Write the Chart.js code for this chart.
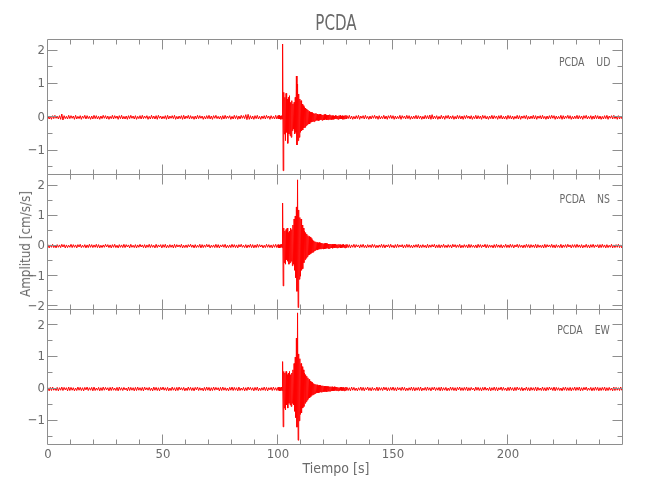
<!DOCTYPE html>
<html>
<head>
<meta charset="utf-8">
<script src="https://cdn.jsdelivr.net/npm/chart.js@4/dist/chart.umd.min.js"></script>
<style>
  html, body { margin:0; padding:0; background:#fff; }
  #wrap { position:relative; width:650px; height:500px; overflow:hidden; background:#fff; }
  canvas { position:absolute; left:0; top:0; }
  .txt { position:absolute; color:#6a6a6a; font-family:"Liberation Sans Narrow","DejaVu Sans Condensed","Liberation Sans",sans-serif; white-space:pre; line-height:1; }
  .lab { right:40px; font-size:13px; transform-origin:100% 50%; transform:scaleX(0.8); }
</style>
</head>
<body>
<div id="wrap">
  <canvas id="c0" width="650" height="500"></canvas>
  <canvas id="c1" width="650" height="500"></canvas>
  <canvas id="c2" width="650" height="500"></canvas>
  <div class="txt" id="title" style="left:336px; top:13px; font-size:21px; transform:translate(-50%,0) scaleX(0.8);">PCDA</div>
  <div class="txt" style="left:25px; top:244px; font-size:14px; transform:translate(-50%,-50%) rotate(-90deg) scaleX(0.95);">Amplitud [cm/s/s]</div>
  <div class="txt" style="left:336px; top:461px; font-size:14px; transform:translate(-50%,0);">Tiempo [s]</div>
  <div class="txt lab" style="top:55px;">PCDA    UD</div>
  <div class="txt lab" style="top:192px;">PCDA    NS</div>
  <div class="txt lab" style="top:323px;">PCDA    EW</div>
</div>
<script>
// ---------------- data (amplitudes in cm/s/s) ----------------
const components = ["UD", "NS", "EW"];
const station = "PCDA";
const timeRange = [0, 250];            // seconds
const yMinByComp = [-1.73, -2.12, -1.76];
const yMaxByComp = [2.32, 2.36, 2.48];

// sampling grids: pre-event 0..99.5 s every 0.5 s, event 100..129.75 s every 0.25 s, post-event 130..250 s every 0.5 s
const preStart = 0,   preStep = 0.5;
const evtStart = 100, evtStep = 0.25;
const postStart = 130, postStep = 0.5;

const udPre = [
.04,-.05,.03,-.06,.05,-.04,.06,-.03,.04,-.05,.05,-.06,.10,-.08,.05,-.04,.03,-.05,.06,-.04,
.05,-.03,.04,-.06,.06,-.05,.03,-.04,.05,-.06,.04,-.03,.06,-.05,.05,-.04,.03,-.06,.04,-.05,
.06,-.04,.05,-.05,.03,-.06,.04,-.04,.06,-.03,.05,-.05,.04,-.06,.03,-.04,.06,-.05,.05,-.03,
.04,-.06,.05,-.04,.06,-.05,.03,-.05,.04,-.06,.05,-.04,.06,-.03,.04,-.05,.05,-.06,.03,-.04,
.05,-.05,.06,-.04,.04,-.03,.05,-.06,.03,-.05,.06,-.04,.04,-.05,.05,-.06,.06,-.03,.04,-.05,
.03,-.04,.05,-.06,.06,-.05,.04,-.03,.05,-.04,.06,-.06,.03,-.05,.04,-.04,.05,-.06,.06,-.05,
.04,-.03,.06,-.05,.05,-.04,.03,-.06,.04,-.05,.06,-.04,.05,-.03,.04,-.06,.03,-.05,.05,-.04,
.06,-.05,.04,-.06,.05,-.03,.06,-.04,.03,-.05,.04,-.06,.05,-.05,.06,-.04,.04,-.03,.05,-.06,
.03,-.05,.06,-.04,.05,-.06,.04,-.05,.06,-.03,.05,-.04,.08,-.07,.09,-.06,.05,-.05,.04,-.06,
.05,-.04,.06,-.05,.03,-.06,.04,-.04,.05,-.05,.06,-.03,.04,-.06,.05,-.04,.03,-.05,.06,-.05];
const udEvent = [
.05,-.04,.06,-.05,.04,-.06,.05,-.05,
2.2,-1.6,.75,-.5,.6,-.7,.72,-.45,
.55,-.78,.6,-.5,.65,-.55,.45,-.6,
.5,-.4,.4,-.35,.45,-.5,.6,-.45,
1.24,-.83,1.0,-.7,.7,-.6,.55,-.45,
.5,-.4,.4,-.38,.35,-.32,.3,-.3,
.28,-.25,.25,-.22,.22,-.2,.18,-.2,
.16,-.15,.15,-.14,.14,-.12,.12,-.13,
.11,-.1,.12,-.09,.1,-.09,.08,-.1,
.09,-.08,.1,-.07,.08,-.09,.07,-.08,
.08,-.07,.09,-.06,.07,-.08,.06,-.07,
.07,-.06,.08,-.06,.06,-.07,.05,-.06,
.05,-.06,.04,-.05,.06,-.04,.05,-.05,
.04,-.06,.05,-.04,.06,-.05,.04,-.05,
.05,-.06,.04,-.05,.05,-.04,.06,-.05];
const udPost = [
.05,-.04,.06,-.05,.04,-.06,.03,-.05,.05,-.04,.06,-.06,.04,-.03,.05,-.05,.06,-.04,.03,-.06,
.04,-.05,.05,-.03,.06,-.04,.04,-.06,.05,-.05,.03,-.04,.06,-.05,.04,-.06,.05,-.03,.06,-.04,
.05,-.06,.04,-.05,.03,-.04,.06,-.06,.05,-.03,.04,-.05,.06,-.04,.05,-.06,.03,-.05,.04,-.04,
.06,-.05,.05,-.04,.04,-.06,.03,-.05,.06,-.04,.05,-.05,.07,-.06,.08,-.05,.04,-.04,.05,-.06,
.03,-.05,.06,-.04,.04,-.06,.05,-.03,.06,-.05,.04,-.04,.05,-.06,.03,-.05,.06,-.04,.05,-.05,
.04,-.06,.05,-.04,.06,-.03,.04,-.05,.05,-.06,.03,-.04,.06,-.05,.05,-.04,.04,-.06,.06,-.03,
.05,-.05,.03,-.06,.04,-.04,.06,-.05,.05,-.03,.04,-.06,.05,-.04,.06,-.05,.03,-.05,.04,-.06,
.06,-.04,.05,-.05,.04,-.06,.03,-.04,.06,-.05,.05,-.06,.04,-.03,.05,-.04,.06,-.06,.03,-.05,
.04,-.04,.06,-.05,.05,-.06,.04,-.03,.05,-.05,.06,-.04,.03,-.06,.04,-.05,.05,-.04,.06,-.03,
.05,-.06,.04,-.05,.03,-.04,.06,-.06,.05,-.05,.04,-.03,.06,-.04,.05,-.06,.03,-.05,.04,-.04,
.06,-.05,.05,-.04,.04,-.06,.05,-.03,.06,-.05,.03,-.04,.05,-.06,.04,-.05,.06,-.04,.05,-.05,
.04,-.06,.03,-.05,.05,-.04,.06,-.06,.04,-.03,.05,-.05,.06,-.04,.03,-.06,.05,-.05,.04,-.04,
.05];

const nsPre = [
.05,-.06,.04,-.04,.06,-.05,.03,-.06,.05,-.04,.04,-.05,.06,-.03,.05,-.06,.04,-.05,.03,-.04,
.06,-.05,.05,-.04,.04,-.06,.05,-.03,.06,-.05,.03,-.04,.05,-.06,.04,-.05,.06,-.04,.05,-.05,
.04,-.04,.06,-.05,.05,-.06,.03,-.05,.04,-.04,.06,-.03,.05,-.05,.04,-.06,.05,-.04,.06,-.05,
.03,-.06,.05,-.04,.04,-.05,.06,-.05,.05,-.03,.04,-.06,.06,-.04,.03,-.05,.05,-.06,.04,-.04,
.06,-.03,.04,-.05,.05,-.06,.04,-.04,.06,-.05,.05,-.04,.03,-.06,.06,-.05,.04,-.03,.05,-.06,
.05,-.04,.06,-.06,.03,-.05,.05,-.04,.04,-.06,.06,-.05,.05,-.03,.04,-.04,.06,-.06,.03,-.05,
.04,-.05,.05,-.03,.06,-.04,.04,-.06,.05,-.05,.03,-.04,.06,-.06,.05,-.05,.04,-.04,.06,-.03,
.05,-.06,.03,-.04,.04,-.05,.06,-.05,.05,-.06,.04,-.03,.05,-.04,.06,-.06,.03,-.05,.04,-.05,
.06,-.04,.05,-.05,.04,-.06,.05,-.03,.06,-.04,.03,-.05,.05,-.06,.04,-.04,.06,-.05,.05,-.06,
.04,-.05,.06,-.04,.05,-.03,.04,-.06,.03,-.05,.06,-.04,.05,-.05,.04,-.06,.05,-.04,.06,-.05];
const nsEvent = [
.05,-.05,.04,-.06,.05,-.04,.06,-.05,
1.43,-1.32,.6,-.55,.5,-.6,.55,-.45,
.6,-.5,.45,-.6,.5,-.55,.6,-.5,
.55,-.65,.7,-.6,.9,-.8,1.0,-1.05,
1.3,-1.5,2.2,-2.04,1.2,-1.1,.95,-1.0,
.9,-.8,.7,-.75,.6,-.55,.5,-.45,
.45,-.4,.4,-.35,.35,-.3,.32,-.28,
.3,-.25,.25,-.22,.2,-.2,.18,-.16,
.15,-.14,.14,-.12,.12,-.13,.11,-.1,
.12,-.1,.1,-.09,.1,-.08,.09,-.1,
.08,-.09,.1,-.08,.09,-.07,.08,-.08,
.07,-.08,.07,-.06,.07,-.06,.06,-.07,
.06,-.05,.07,-.06,.06,-.05,.05,-.06,
.05,-.05,.06,-.04,.05,-.06,.04,-.05,
.05,-.04,.06,-.05,.04,-.06,.05,-.05];
const nsPost = [
.06,-.05,.05,-.06,.04,-.04,.06,-.05,.05,-.03,.04,-.06,.05,-.04,.06,-.05,.03,-.06,.05,-.04,
.04,-.05,.06,-.04,.05,-.06,.03,-.05,.04,-.04,.06,-.05,.05,-.06,.04,-.03,.05,-.05,.06,-.04,
.03,-.06,.05,-.05,.06,-.04,.04,-.03,.05,-.06,.04,-.05,.06,-.04,.05,-.05,.03,-.06,.04,-.04,
.05,-.04,.06,-.06,.04,-.05,.05,-.04,.03,-.06,.06,-.05,.04,-.04,.05,-.03,.06,-.06,.04,-.05,
.05,-.06,.04,-.04,.06,-.05,.03,-.05,.05,-.04,.04,-.06,.06,-.03,.05,-.05,.04,-.04,.06,-.06,
.03,-.05,.05,-.04,.04,-.06,.06,-.05,.05,-.04,.03,-.05,.04,-.06,.06,-.04,.05,-.05,.04,-.03,
.06,-.06,.05,-.05,.04,-.04,.03,-.06,.05,-.05,.06,-.04,.04,-.05,.05,-.06,.03,-.04,.06,-.05,
.04,-.05,.06,-.04,.05,-.06,.04,-.03,.06,-.05,.05,-.04,.03,-.06,.04,-.05,.06,-.04,.05,-.06,
.05,-.04,.04,-.05,.06,-.06,.05,-.04,.03,-.05,.04,-.06,.06,-.05,.05,-.03,.04,-.04,.06,-.05,
.04,-.06,.05,-.04,.03,-.05,.06,-.06,.04,-.04,.05,-.05,.06,-.03,.04,-.06,.05,-.04,.05,-.05,
.06,-.04,.04,-.05,.05,-.06,.03,-.04,.06,-.05,.04,-.06,.05,-.04,.06,-.05,.04,-.03,.05,-.06,
.05,-.05,.06,-.04,.04,-.06,.05,-.05,.03,-.04,.06,-.06,.04,-.05,.05,-.04,.06,-.05,.04,-.06,
.05];

const ewPre = [
.04,-.06,.05,-.05,.06,-.04,.03,-.05,.05,-.06,.04,-.04,.06,-.05,.05,-.03,.04,-.06,.06,-.05,
.05,-.04,.04,-.06,.03,-.05,.06,-.04,.05,-.05,.04,-.06,.05,-.03,.06,-.05,.04,-.04,.05,-.06,
.06,-.05,.03,-.04,.05,-.06,.04,-.05,.06,-.04,.05,-.03,.04,-.06,.05,-.05,.06,-.04,.03,-.05,
.05,-.06,.06,-.04,.04,-.05,.05,-.03,.03,-.06,.06,-.05,.05,-.04,.04,-.06,.05,-.05,.06,-.04,
.04,-.05,.05,-.06,.06,-.03,.04,-.04,.05,-.05,.03,-.06,.06,-.04,.05,-.05,.04,-.06,.05,-.03,
.06,-.04,.04,-.05,.05,-.06,.03,-.05,.06,-.04,.04,-.06,.05,-.05,.06,-.03,.04,-.04,.05,-.06,
.03,-.05,.06,-.04,.05,-.05,.04,-.06,.05,-.03,.06,-.05,.04,-.04,.03,-.06,.05,-.05,.06,-.04,
.05,-.06,.04,-.05,.06,-.04,.05,-.03,.04,-.06,.05,-.05,.06,-.04,.04,-.05,.03,-.06,.05,-.04,
.06,-.05,.05,-.04,.04,-.06,.06,-.05,.03,-.04,.05,-.06,.04,-.05,.06,-.03,.05,-.04,.04,-.06,
.05,-.04,.06,-.06,.03,-.05,.04,-.04,.06,-.05,.05,-.06,.04,-.03,.05,-.05,.06,-.04,.04,-.05];
const ewEvent = [
.05,-.04,.05,-.06,.04,-.05,.06,-.05,
.86,-1.19,.55,-.6,.5,-.66,.55,-.5,
.45,-.6,.5,-.45,.55,-.5,.45,-.55,
.5,-.45,.6,-.5,.8,-.7,1.0,-.9,
1.6,-1.2,2.39,-1.61,1.1,-1.0,.95,-.8,
.8,-.75,.7,-.6,.6,-.55,.5,-.45,
.45,-.4,.4,-.35,.35,-.3,.3,-.28,
.25,-.24,.22,-.2,.2,-.18,.17,-.16,
.15,-.14,.14,-.12,.13,-.12,.11,-.12,
.12,-.1,.11,-.1,.1,-.09,.1,-.09,
.09,-.08,.09,-.08,.08,-.09,.08,-.07,
.08,-.07,.07,-.07,.07,-.06,.07,-.06,
.06,-.06,.07,-.05,.06,-.05,.06,-.05,
.05,-.06,.04,-.05,.05,-.04,.06,-.05,
.04,-.05,.05,-.06,.04,-.05,.06,-.04];
const ewPost = [
.05,-.05,.04,-.06,.06,-.04,.05,-.05,.03,-.06,.04,-.04,.06,-.05,.05,-.06,.04,-.03,.06,-.05,
.04,-.06,.05,-.04,.03,-.05,.06,-.06,.05,-.04,.04,-.05,.06,-.03,.05,-.06,.04,-.05,.05,-.04,
.06,-.05,.04,-.06,.05,-.03,.04,-.05,.06,-.04,.05,-.06,.03,-.05,.04,-.04,.06,-.05,.05,-.06,
.04,-.04,.05,-.05,.06,-.06,.03,-.04,.05,-.05,.06,-.04,.04,-.06,.05,-.03,.06,-.05,.04,-.04,
.05,-.06,.06,-.05,.04,-.04,.05,-.06,.03,-.05,.06,-.04,.05,-.05,.04,-.06,.05,-.03,.06,-.05,
.04,-.05,.05,-.04,.06,-.06,.04,-.05,.05,-.03,.03,-.06,.06,-.04,.05,-.05,.04,-.06,.05,-.04,
.06,-.04,.03,-.05,.05,-.06,.04,-.04,.06,-.05,.05,-.06,.04,-.03,.06,-.05,.05,-.04,.03,-.06,
.05,-.05,.06,-.04,.04,-.06,.05,-.05,.06,-.03,.04,-.05,.05,-.06,.03,-.04,.06,-.05,.04,-.06,
.05,-.04,.04,-.05,.06,-.06,.05,-.04,.03,-.05,.06,-.05,.04,-.06,.05,-.04,.06,-.03,.04,-.05,
.06,-.06,.05,-.04,.04,-.05,.03,-.06,.05,-.04,.06,-.05,.04,-.05,.05,-.06,.04,-.04,.06,-.05,
.05,-.04,.06,-.06,.04,-.05,.05,-.03,.06,-.05,.03,-.04,.05,-.06,.04,-.05,.06,-.04,.05,-.06,
.04,-.05,.05,-.04,.06,-.06,.04,-.05,.05,-.04,.03,-.06,.06,-.05,.05,-.04,.04,-.05,.06,-.04,
.05];

// ---------------- layout / style ----------------
const PANEL_TOPS = [40, 175, 310];
const PANEL_BOTTOMS = [175, 310, 445];
const PLOT_LEFT = 48, PLOT_RIGHT = 623, W = 650, H = 500;
const FONT_FAMILY = '"Liberation Sans Narrow","DejaVu Sans Condensed","Liberation Sans",sans-serif';
const TEXT_COLOR = '#6a6a6a';
const AXIS_COLOR = '#8e8e8e';
const TRACE_COLOR = '#ff0000';

function toPoints(arr, start, step) {
  return arr.map((v, i) => ({ x: start + i * step, y: v }));
}
const series = [
  [udPre, udEvent, udPost],
  [nsPre, nsEvent, nsPost],
  [ewPre, ewEvent, ewPost]
].map(([a, b, c]) => toPoints(a, preStart, preStep)
  .concat(toPoints(b, evtStart, evtStep), toPoints(c, postStart, postStep)));

function fmtNum(v) {
  return v < 0 ? '\u2212' + Math.abs(v) : String(v);
}

const framePlugin = {
  id: 'frame',
  afterDraw(chart) {
    const { ctx, chartArea: a, scales: { x, y } } = chart;
    ctx.save();
    ctx.strokeStyle = AXIS_COLOR;
    ctx.lineWidth = 1;
    ctx.beginPath();
    const L = a.left - 0.5, R = a.right - 0.5, T = a.top - 0.5, B = a.bottom - 0.5;
    ctx.rect(L, T, R - L, B - T);
    x.ticks.forEach(t => {
      if (t.value <= x.min || t.value >= x.max) return;
      const px = Math.round(x.getPixelForValue(t.value)) - 0.5;
      const len = t.value % 50 === 0 ? 10 : 5;
      ctx.moveTo(px, B); ctx.lineTo(px, B - len);
      ctx.moveTo(px, T); ctx.lineTo(px, T + len);
    });
    y.ticks.forEach(t => {
      if (t.value <= y.min || t.value >= y.max) return;
      const py = Math.round(y.getPixelForValue(t.value)) - 0.5;
      const len = Number.isInteger(t.value) ? 10 : 5;
      ctx.moveTo(L, py); ctx.lineTo(L + len, py);
      ctx.moveTo(R, py); ctx.lineTo(R - len, py);
    });
    ctx.stroke();
    ctx.restore();
  }
};

components.forEach((comp, i) => {
  const isBottom = i === components.length - 1;
  const bottomSpace = H - PANEL_BOTTOMS[i];
  new Chart(document.getElementById('c' + i), {
    type: 'line',
    data: {
      datasets: [{
        label: station + ' ' + comp,
        data: series[i],
        borderColor: TRACE_COLOR,
        borderWidth: 1,
        pointRadius: 0,
        tension: 0,
        fill: false
      }]
    },
    options: {
      responsive: false,
      animation: false,
      events: [],
      parsing: false,
      normalized: true,
      layout: { padding: { left: 0, right: W - PLOT_RIGHT, top: PANEL_TOPS[i], bottom: isBottom ? 0 : bottomSpace } },
      plugins: { legend: { display: false }, tooltip: { enabled: false }, title: { display: false } },
      scales: {
        x: {
          type: 'linear',
          min: timeRange[0], max: timeRange[1],
          afterFit: s => { s.height = isBottom ? bottomSpace : 0; },
          grid: { display: false, drawTicks: false },
          border: { display: false },
          ticks: {
            display: isBottom,
            stepSize: 10,
            autoSkip: false,
            maxRotation: 0,
            padding: 2,
            color: TEXT_COLOR,
            font: { family: FONT_FAMILY, size: 13 },
            callback: v => (v % 50 === 0 && v < timeRange[1]) ? fmtNum(v) : ''
          }
        },
        y: {
          type: 'linear',
          min: yMinByComp[i], max: yMaxByComp[i],
          afterFit: s => { s.width = PLOT_LEFT; },
          grid: { display: false, drawTicks: false },
          border: { display: false },
          ticks: {
            stepSize: 0.5,
            includeBounds: false,
            autoSkip: false,
            padding: 3,
            color: TEXT_COLOR,
            font: { family: FONT_FAMILY, size: 13 },
            callback: v => Number.isInteger(v) ? fmtNum(v) : ''
          }
        }
      }
    },
    plugins: [framePlugin]
  });
});
</script>
</body>
</html>
